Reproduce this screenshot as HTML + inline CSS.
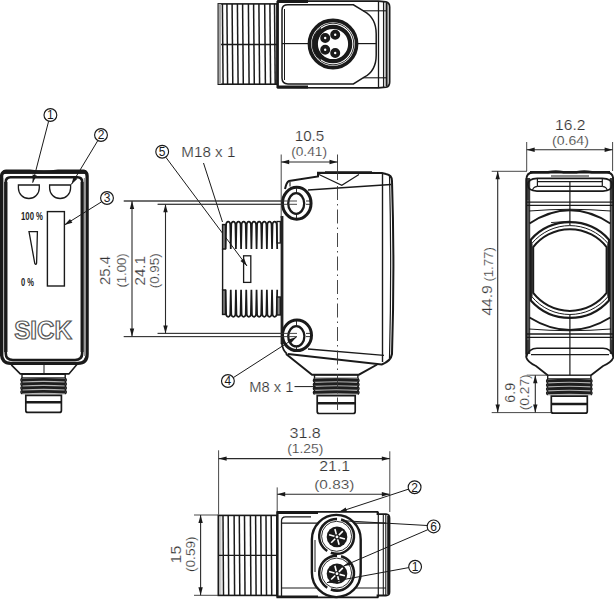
<!DOCTYPE html>
<html><head><meta charset="utf-8"><style>
html,body{margin:0;padding:0;background:#fff;}
svg{display:block;font-family:"Liberation Sans",sans-serif;}
</style></head><body>
<svg width="614" height="600" viewBox="0 0 614 600">
<rect x="218.3" y="3.9" width="58.7" height="80.3" rx="0" stroke="#1a1a1a" stroke-width="1.6" fill="none"/>
<line x1="222.4" y1="4" x2="223.1" y2="84" stroke="#1a1a1a" stroke-width="1.5" />
<line x1="226.9" y1="4" x2="227.6" y2="84" stroke="#1a1a1a" stroke-width="1.5" />
<line x1="232.1" y1="4" x2="232.79999999999998" y2="84" stroke="#1a1a1a" stroke-width="1.5" />
<line x1="237.4" y1="4" x2="238.1" y2="84" stroke="#1a1a1a" stroke-width="1.5" />
<line x1="242.6" y1="4" x2="243.29999999999998" y2="84" stroke="#1a1a1a" stroke-width="1.5" />
<line x1="248.4" y1="4" x2="249.1" y2="84" stroke="#1a1a1a" stroke-width="1.5" />
<line x1="253.6" y1="4" x2="254.29999999999998" y2="84" stroke="#1a1a1a" stroke-width="1.5" />
<line x1="258.9" y1="4" x2="259.59999999999997" y2="84" stroke="#1a1a1a" stroke-width="1.5" />
<line x1="264.7" y1="4" x2="265.4" y2="84" stroke="#1a1a1a" stroke-width="1.5" />
<line x1="269.9" y1="4" x2="270.59999999999997" y2="84" stroke="#1a1a1a" stroke-width="1.5" />
<line x1="274.5" y1="4" x2="275.2" y2="84" stroke="#1a1a1a" stroke-width="1.5" />
<line x1="218.3" y1="44.5" x2="277" y2="44.5" stroke="#1a1a1a" stroke-width="1.3" />
<path d="M277.8,87.6 L277.8,1.2 L378.5,1.2 L386,1.8 Q389.6,2.4 389.6,7 L389.6,82 Q389.6,86.8 386,87.2 L378.5,87.8 Z" stroke="#1a1a1a" stroke-width="1.8" fill="none" />
<path d="M277.5,1.5 L308,1.5" stroke="#1a1a1a" stroke-width="3" fill="none" />
<path d="M277.5,87 L308,87" stroke="#1a1a1a" stroke-width="3" fill="none" />
<line x1="277.6" y1="1" x2="277.6" y2="88" stroke="#1a1a1a" stroke-width="2.2" />
<rect x="218.5" y="4" width="2.6" height="80" fill="#aaa"/>
<path d="M282,10 Q282,4.8 288,4.8 L353.4,4.8 L364.2,11.4 Q376.2,18 376.2,34 L376.2,55 Q376.2,71 364.2,77.2 L353.4,83.9 L288,83.9 Q282,83.9 282,78 Z" stroke="#1a1a1a" stroke-width="1.5" fill="none" />
<line x1="284.5" y1="9" x2="284.5" y2="80" stroke="#1a1a1a" stroke-width="1" />
<line x1="378.5" y1="1.2" x2="378.5" y2="87.8" stroke="#1a1a1a" stroke-width="1.3" />
<line x1="383.6" y1="1.6" x2="383.6" y2="87.4" stroke="#1a1a1a" stroke-width="1.3" />
<line x1="386.6" y1="3" x2="386.6" y2="86" stroke="#1a1a1a" stroke-width="2.0" />
<line x1="363" y1="10.8" x2="387" y2="10.8" stroke="#1a1a1a" stroke-width="1.1" />
<line x1="363" y1="77.8" x2="387" y2="77.8" stroke="#1a1a1a" stroke-width="1.1" />
<line x1="282" y1="43.6" x2="308" y2="43.6" stroke="#1a1a1a" stroke-width="1.2" />
<line x1="358" y1="43.6" x2="376.2" y2="43.6" stroke="#1a1a1a" stroke-width="1.2" />
<circle cx="333" cy="44" r="23.6" stroke="#1a1a1a" stroke-width="3.6" fill="none"/>
<circle cx="333" cy="44" r="20.8" stroke="#1a1a1a" stroke-width="0.9" fill="none"/>
<circle cx="333" cy="44" r="17.2" stroke="#1a1a1a" stroke-width="4.2" fill="none"/>
<path d="M322,30 A17,17 0 0 0 322,58" stroke="#1a1a1a" stroke-width="5" fill="none" />
<circle cx="325.2" cy="38" r="3.1" stroke="#1a1a1a" stroke-width="3.8" fill="none"/>
<circle cx="335.2" cy="34.8" r="3.1" stroke="#1a1a1a" stroke-width="3.8" fill="none"/>
<circle cx="325.2" cy="49.7" r="3.1" stroke="#1a1a1a" stroke-width="3.8" fill="none"/>
<circle cx="335.2" cy="53" r="3.1" stroke="#1a1a1a" stroke-width="3.8" fill="none"/>
<path d="M1.6,176 Q1.6,172 6,172 L84,172 Q87.1,172 87.1,176 L87.1,354 Q87.1,363.3 78,363.3 L10.5,363.3 Q1.6,363.3 1.6,354 Z" stroke="#1a1a1a" stroke-width="3.3" fill="none" />
<path d="M2,173.7 L2,172 Q2.5,169.5 6,169.5 L30,169.5 Q44,171.5 58,169.5 L84,169.5 Q86.8,169.8 87,172 L87,173.7 Z" fill="#1a1a1a"/>
<path d="M5.75,182 Q5.75,177.2 10.5,177.2 L77.5,177.2 Q82.2,177.2 82.2,182 L82.2,353 Q82.2,360 75,360 L13,360 Q5.75,360 5.75,353 Z" stroke="#1a1a1a" stroke-width="2.6" fill="none" />
<line x1="5.75" y1="182" x2="5.75" y2="352" stroke="#1a1a1a" stroke-width="3.4" />
<line x1="82.2" y1="182" x2="82.2" y2="352" stroke="#1a1a1a" stroke-width="3.2" />
<line x1="84.6" y1="178" x2="84.6" y2="356" stroke="#9a9a9a" stroke-width="1.7" />
<line x1="3.65" y1="178" x2="3.65" y2="356" stroke="#999" stroke-width="0.8" />
<path d="M18.4,185 L39.3,185 L39.3,188 A10.45,10.5 0 0 1 18.4,188 Z" stroke="#1a1a1a" stroke-width="1.3" fill="none" />
<path d="M49.6,185 L70.6,185 L70.6,188 A10.5,10.5 0 0 1 49.6,188 Z" stroke="#1a1a1a" stroke-width="1.3" fill="none" />
<text x="32" y="219.6" font-size="10" text-anchor="middle" font-weight="bold" fill="#1a1a1a" textLength="22" lengthAdjust="spacingAndGlyphs" >100 %</text>
<rect x="47.4" y="211.6" width="17" height="74.4" rx="0" stroke="#1a1a1a" stroke-width="1.4" fill="none"/>
<path d="M29,231.6 L37.4,231.6 L36.6,263 Q36,265.5 34.8,263.5 Z" stroke="#1a1a1a" stroke-width="1.3" fill="none" />
<text x="27.5" y="286" font-size="10" text-anchor="middle" font-weight="bold" fill="#1a1a1a" textLength="13" lengthAdjust="spacingAndGlyphs" >0 %</text>
<text x="43" y="338.5" font-size="25" text-anchor="middle" font-weight="bold" fill="#fff" textLength="57.7" lengthAdjust="spacingAndGlyphs" stroke="#555" stroke-width="1.2">SICK</text>
<path d="M11.3,364.9 L20.3,373.9 L68.9,373.9 L77.1,364.3" stroke="#1a1a1a" stroke-width="1.6" fill="none" />
<line x1="44" y1="365" x2="44" y2="373" stroke="#1a1a1a" stroke-width="1" />
<rect x="22.0" y="374.3" width="43.2" height="3.7" rx="0" stroke="#1a1a1a" stroke-width="1.4" fill="none"/>
<rect x="22.00" y="378.00" width="43.20" height="16.50" fill="#b5b5b5"/>
<path d="M21.50,380.00 Q43.60,378.70 65.70,380.00" stroke="#1e1e1e" stroke-width="2.8" fill="none" />
<path d="M21.50,384.00 Q43.60,382.70 65.70,384.00" stroke="#1e1e1e" stroke-width="2.8" fill="none" />
<path d="M21.50,388.00 Q43.60,386.70 65.70,388.00" stroke="#1e1e1e" stroke-width="2.8" fill="none" />
<path d="M21.50,392.00 Q43.60,390.70 65.70,392.00" stroke="#1e1e1e" stroke-width="2.8" fill="none" />
<path d="M22.00,378.00 Q19.80,380.00 22.00,382.00 Q19.80,384.00 22.00,386.00 Q19.80,388.00 22.00,390.00 Q19.80,392.00 22.00,394.00" stroke="#1a1a1a" stroke-width="1.4" fill="none" />
<path d="M65.20,378.00 Q67.40,380.00 65.20,382.00 Q67.40,384.00 65.20,386.00 Q67.40,388.00 65.20,390.00 Q67.40,392.00 65.20,394.00" stroke="#1a1a1a" stroke-width="1.4" fill="none" />
<path d="M25.80,395.30 L61.40,395.30 L61.40,410.40 Q61.40,412.40 59.40,412.40 L27.80,412.40 Q25.80,412.40 25.80,410.40 Z" stroke="#1a1a1a" stroke-width="1.7" fill="none"/>
<line x1="25.8" y1="402.2" x2="61.4" y2="402.2" stroke="#1a1a1a" stroke-width="2.6" />
<circle cx="50.4" cy="115" r="6.4" stroke="#1a1a1a" stroke-width="1.15" fill="#fff"/>
<text x="50.4" y="119.3" font-size="12" text-anchor="middle" font-weight="normal" fill="#1a1a1a" >1</text>
<line x1="48.6" y1="121.3" x2="32.7" y2="182.7" stroke="#1a1a1a" stroke-width="1.0" />
<polygon points="32.70,182.70 36.84,175.51 32.58,174.40" fill="#1a1a1a"/>
<circle cx="101" cy="135" r="6.4" stroke="#1a1a1a" stroke-width="1.15" fill="#fff"/>
<text x="101" y="139.3" font-size="12" text-anchor="middle" font-weight="normal" fill="#1a1a1a" >2</text>
<line x1="97.8" y1="140.6" x2="71.4" y2="184.4" stroke="#1a1a1a" stroke-width="1.0" />
<polygon points="71.40,184.40 77.41,178.68 73.65,176.41" fill="#1a1a1a"/>
<circle cx="107" cy="198" r="6.4" stroke="#1a1a1a" stroke-width="1.15" fill="#fff"/>
<text x="107" y="202.3" font-size="12" text-anchor="middle" font-weight="normal" fill="#1a1a1a" >3</text>
<line x1="101.6" y1="201.8" x2="64.4" y2="225" stroke="#1a1a1a" stroke-width="1.0" />
<polygon points="64.40,225.00 72.35,222.63 70.02,218.90" fill="#1a1a1a"/>
<line x1="123.8" y1="201" x2="297" y2="201" stroke="#333" stroke-width="0.9" />
<line x1="157.7" y1="204.3" x2="297" y2="204.3" stroke="#333" stroke-width="0.9" />
<line x1="123.8" y1="336.6" x2="297" y2="336.6" stroke="#333" stroke-width="0.9" />
<line x1="157.7" y1="333.4" x2="297" y2="333.4" stroke="#333" stroke-width="0.9" />
<line x1="132" y1="201" x2="132" y2="336.6" stroke="#2a2a2a" stroke-width="1.1" />
<polygon points="132.00,201.00 129.80,209.00 134.20,209.00" fill="#1a1a1a"/>
<polygon points="132.00,336.60 134.20,328.60 129.80,328.60" fill="#1a1a1a"/>
<line x1="165.5" y1="204.3" x2="165.5" y2="333.4" stroke="#2a2a2a" stroke-width="1.1" />
<polygon points="165.50,204.30 163.30,212.30 167.70,212.30" fill="#1a1a1a"/>
<polygon points="165.50,333.40 167.70,325.40 163.30,325.40" fill="#1a1a1a"/>
<text x="110" y="270.5" font-size="14" text-anchor="middle" font-weight="normal" fill="#333" transform="rotate(-90 110 270.5)" textLength="29" lengthAdjust="spacingAndGlyphs"  stroke="#fff" stroke-width="0.2">25.4</text>
<text x="125.5" y="270.5" font-size="12.3" text-anchor="middle" font-weight="normal" fill="#333" transform="rotate(-90 125.5 270.5)" textLength="34" lengthAdjust="spacingAndGlyphs"  stroke="#fff" stroke-width="0.2">(1.00)</text>
<text x="144.6" y="270.8" font-size="14" text-anchor="middle" font-weight="normal" fill="#333" transform="rotate(-90 144.6 270.8)" textLength="29.4" lengthAdjust="spacingAndGlyphs"  stroke="#fff" stroke-width="0.2">24.1</text>
<text x="159.5" y="270.8" font-size="12.3" text-anchor="middle" font-weight="normal" fill="#333" transform="rotate(-90 159.5 270.8)" textLength="35" lengthAdjust="spacingAndGlyphs"  stroke="#fff" stroke-width="0.2">(0.95)</text>
<circle cx="162.2" cy="151.7" r="6.4" stroke="#1a1a1a" stroke-width="1.15" fill="#fff"/>
<text x="162.2" y="156.0" font-size="12" text-anchor="middle" font-weight="normal" fill="#1a1a1a" >5</text>
<text x="208.35" y="157" font-size="14" text-anchor="middle" font-weight="normal" fill="#333" textLength="54" lengthAdjust="spacingAndGlyphs"  stroke="#fff" stroke-width="0.2">M18 x 1</text>
<line x1="165.8" y1="157.2" x2="247" y2="266" stroke="#1a1a1a" stroke-width="1.0" />
<polygon points="247.00,266.00 243.98,258.27 240.45,260.90" fill="#1a1a1a"/>
<line x1="203.5" y1="163" x2="222.5" y2="222" stroke="#1a1a1a" stroke-width="1.0" />
<path d="M225.6,249 L226.10,224.8 C226.00,220.60000000000002 230.36,220.60000000000002 230.26,224.8 L230.76,249 L231.26,224.8 C231.16,220.60000000000002 235.52,220.60000000000002 235.42,224.8 L235.92,249 L236.42,224.8 C236.32,220.60000000000002 240.68,220.60000000000002 240.58,224.8 L241.08,249 L241.58,224.8 C241.48,220.60000000000002 245.84,220.60000000000002 245.74,224.8 L246.24,249 L246.74,224.8 C246.64,220.60000000000002 251.00,220.60000000000002 250.90,224.8 L251.40,249 L251.90,224.8 C251.80,220.60000000000002 256.16,220.60000000000002 256.06,224.8 L256.56,249 L257.06,224.8 C256.96,220.60000000000002 261.32,220.60000000000002 261.22,224.8 L261.72,249 L262.22,224.8 C262.12,220.60000000000002 266.48,220.60000000000002 266.38,224.8 L266.88,249 L267.38,224.8 C267.28,220.60000000000002 271.64,220.60000000000002 271.54,224.8 L272.04,249 L272.54,224.8 C272.44,220.60000000000002 276.80,220.60000000000002 276.70,224.8 L277.20,249" stroke="#1a1a1a" stroke-width="1.75" fill="none" />
<path d="M225.6,289.8 L226.10,313.6 C226.00,317.8 230.36,317.8 230.26,313.6 L230.76,289.8 L231.26,313.6 C231.16,317.8 235.52,317.8 235.42,313.6 L235.92,289.8 L236.42,313.6 C236.32,317.8 240.68,317.8 240.58,313.6 L241.08,289.8 L241.58,313.6 C241.48,317.8 245.84,317.8 245.74,313.6 L246.24,289.8 L246.74,313.6 C246.64,317.8 251.00,317.8 250.90,313.6 L251.40,289.8 L251.90,313.6 C251.80,317.8 256.16,317.8 256.06,313.6 L256.56,289.8 L257.06,313.6 C256.96,317.8 261.32,317.8 261.22,313.6 L261.72,289.8 L262.22,313.6 C262.12,317.8 266.48,317.8 266.38,313.6 L266.88,289.8 L267.38,313.6 C267.28,317.8 271.64,317.8 271.54,313.6 L272.04,289.8 L272.54,313.6 C272.44,317.8 276.80,317.8 276.70,313.6 L277.20,289.8" stroke="#1a1a1a" stroke-width="1.75" fill="none" />
<rect x="222.6" y="224.6" width="2.8" height="24.4" rx="0" stroke="#1a1a1a" stroke-width="1.5" fill="#999"/>
<rect x="222.6" y="290" width="2.8" height="24.4" rx="0" stroke="#1a1a1a" stroke-width="1.5" fill="#999"/>
<rect x="277" y="221.5" width="3.3" height="21.5" rx="0" stroke="#1a1a1a" stroke-width="1.3" fill="none"/>
<rect x="277" y="297" width="3.3" height="18" rx="0" stroke="#1a1a1a" stroke-width="1.4" fill="#888"/>
<line x1="222.6" y1="249" x2="222.6" y2="290" stroke="#1a1a1a" stroke-width="1.4" />
<rect x="243.6" y="255.8" width="7.2" height="26.6" rx="0" stroke="#1a1a1a" stroke-width="1.3" fill="none"/>
<line x1="282" y1="216" x2="282" y2="344" stroke="#222" stroke-width="2.8" />
<path d="M285,189 Q286.5,182 289,181 L318,176.5 L318,172.8 L382,173 L386,174 Q392,175 392,181 Q394.8,266 392,354 Q391,361 381.7,364.5 L288,354" stroke="#1a1a1a" stroke-width="2.0" fill="none" />
<line x1="290" y1="182" x2="290" y2="186.5" stroke="#1a1a1a" stroke-width="1.1" />
<path d="M319,174.5 L341.8,185.2 L359,174.5" stroke="#1a1a1a" stroke-width="1.2" fill="none" />
<path d="M325,172.6 L372,172.6" stroke="#1a1a1a" stroke-width="2.6" fill="none" />
<line x1="308" y1="190" x2="391" y2="184.5" stroke="#1a1a1a" stroke-width="1.3" />
<line x1="382.5" y1="173" x2="382.5" y2="362" stroke="#1a1a1a" stroke-width="1.4" />
<path d="M389.5,175 Q391.8,266 389.5,358" stroke="#1a1a1a" stroke-width="1.2" fill="none" />
<line x1="308" y1="349" x2="384" y2="355.3" stroke="#1a1a1a" stroke-width="1.3" />
<path d="M286,354 L312,374.7 L358.9,374.7 L377.2,364.5" stroke="#1a1a1a" stroke-width="1.9" fill="none" />
<path d="M281.8,343 Q282.5,350 287,354" stroke="#1a1a1a" stroke-width="1.8" fill="none" />
<ellipse cx="296.75" cy="203.2" rx="14.3" ry="16.0" stroke="#1a1a1a" stroke-width="3.0" fill="#fff"/>
<ellipse cx="296.2" cy="203.5" rx="8.0" ry="10.3" stroke="#1a1a1a" stroke-width="2.3" fill="none"/>
<ellipse cx="297" cy="335.3" rx="14.5" ry="15.3" stroke="#1a1a1a" stroke-width="3.0" fill="#fff"/>
<ellipse cx="296.3" cy="336.3" rx="8.1" ry="10.1" stroke="#1a1a1a" stroke-width="2.3" fill="none"/>
<line x1="296.5" y1="188.3" x2="296.5" y2="192.3" stroke="#1a1a1a" stroke-width="0.9" />
<line x1="296.5" y1="214.3" x2="296.5" y2="218.3" stroke="#1a1a1a" stroke-width="0.9" />
<line x1="296.5" y1="321" x2="296.5" y2="325" stroke="#1a1a1a" stroke-width="0.9" />
<line x1="296.5" y1="347" x2="296.5" y2="351" stroke="#1a1a1a" stroke-width="0.9" />
<line x1="123.8" y1="201" x2="297" y2="201" stroke="#333" stroke-width="0.9" />
<line x1="157.7" y1="204.3" x2="297" y2="204.3" stroke="#333" stroke-width="0.9" />
<line x1="123.8" y1="336.6" x2="297" y2="336.6" stroke="#333" stroke-width="0.9" />
<line x1="157.7" y1="333.4" x2="297" y2="333.4" stroke="#333" stroke-width="0.9" />
<line x1="306" y1="201" x2="312" y2="201" stroke="#1a1a1a" stroke-width="0.9" />
<line x1="306" y1="204.3" x2="312" y2="204.3" stroke="#1a1a1a" stroke-width="0.9" />
<line x1="306" y1="333.4" x2="312" y2="333.4" stroke="#1a1a1a" stroke-width="0.9" />
<line x1="306" y1="336.6" x2="312" y2="336.6" stroke="#1a1a1a" stroke-width="0.9" />
<rect x="314.5" y="374.7" width="43.4" height="3.7" rx="0" stroke="#1a1a1a" stroke-width="1.4" fill="none"/>
<rect x="314.50" y="378.40" width="43.40" height="16.50" fill="#b5b5b5"/>
<path d="M314.00,380.40 Q336.20,379.10 358.40,380.40" stroke="#1e1e1e" stroke-width="2.8" fill="none" />
<path d="M314.00,384.40 Q336.20,383.10 358.40,384.40" stroke="#1e1e1e" stroke-width="2.8" fill="none" />
<path d="M314.00,388.40 Q336.20,387.10 358.40,388.40" stroke="#1e1e1e" stroke-width="2.8" fill="none" />
<path d="M314.00,392.40 Q336.20,391.10 358.40,392.40" stroke="#1e1e1e" stroke-width="2.8" fill="none" />
<path d="M314.50,378.40 Q312.30,380.40 314.50,382.40 Q312.30,384.40 314.50,386.40 Q312.30,388.40 314.50,390.40 Q312.30,392.40 314.50,394.40" stroke="#1a1a1a" stroke-width="1.4" fill="none" />
<path d="M357.90,378.40 Q360.10,380.40 357.90,382.40 Q360.10,384.40 357.90,386.40 Q360.10,388.40 357.90,390.40 Q360.10,392.40 357.90,394.40" stroke="#1a1a1a" stroke-width="1.4" fill="none" />
<path d="M317.20,395.70 L355.20,395.70 L355.20,411.50 Q355.20,413.50 353.20,413.50 L319.20,413.50 Q317.20,413.50 317.20,411.50 Z" stroke="#1a1a1a" stroke-width="1.7" fill="none"/>
<line x1="317.2" y1="403.3" x2="355.2" y2="403.3" stroke="#1a1a1a" stroke-width="2.6" />
<line x1="337.5" y1="154.5" x2="337.5" y2="180" stroke="#333" stroke-width="0.9" />
<line x1="337.5" y1="186" x2="337.5" y2="410" stroke="#333" stroke-width="0.9" stroke-dasharray="14,4,1.5,4"/>
<text x="309.5" y="140.6" font-size="14" text-anchor="middle" font-weight="normal" fill="#333" textLength="29.6" lengthAdjust="spacingAndGlyphs"  stroke="#fff" stroke-width="0.2">10.5</text>
<text x="309.1" y="156" font-size="12.3" text-anchor="middle" font-weight="normal" fill="#333" textLength="35.8" lengthAdjust="spacingAndGlyphs"  stroke="#fff" stroke-width="0.2">(0.41)</text>
<line x1="281.2" y1="154.5" x2="281.2" y2="218" stroke="#333" stroke-width="0.9" />
<line x1="281.2" y1="162" x2="337.5" y2="162" stroke="#2a2a2a" stroke-width="1.1" />
<polygon points="281.20,162.00 289.20,164.20 289.20,159.80" fill="#1a1a1a"/>
<polygon points="337.50,162.00 329.50,159.80 329.50,164.20" fill="#1a1a1a"/>
<text x="271.4" y="391.9" font-size="14" text-anchor="middle" font-weight="normal" fill="#333" textLength="44.3" lengthAdjust="spacingAndGlyphs"  stroke="#fff" stroke-width="0.2">M8 x 1</text>
<line x1="294.5" y1="386.6" x2="315.6" y2="386.6" stroke="#1a1a1a" stroke-width="1.0" />
<circle cx="227.9" cy="381" r="6.4" stroke="#1a1a1a" stroke-width="1.15" fill="#fff"/>
<text x="227.9" y="385.3" font-size="12" text-anchor="middle" font-weight="normal" fill="#1a1a1a" >4</text>
<line x1="233.5" y1="377.5" x2="296.5" y2="337" stroke="#1a1a1a" stroke-width="1.0" />
<polygon points="296.50,337.00 287.63,339.85 290.23,343.89" fill="#1a1a1a"/>
<text x="570.25" y="129.9" font-size="14" text-anchor="middle" font-weight="normal" fill="#333" textLength="30.4" lengthAdjust="spacingAndGlyphs"  stroke="#fff" stroke-width="0.2">16.2</text>
<text x="570.45" y="144.8" font-size="12.3" text-anchor="middle" font-weight="normal" fill="#333" textLength="36.8" lengthAdjust="spacingAndGlyphs"  stroke="#fff" stroke-width="0.2">(0.64)</text>
<line x1="526.7" y1="142" x2="526.7" y2="171" stroke="#333" stroke-width="0.9" />
<line x1="612.6" y1="142" x2="612.6" y2="171" stroke="#333" stroke-width="0.9" />
<line x1="526.7" y1="149.7" x2="612.6" y2="149.7" stroke="#2a2a2a" stroke-width="1.1" />
<polygon points="526.70,149.70 534.70,151.90 534.70,147.50" fill="#1a1a1a"/>
<polygon points="612.60,149.70 604.60,147.50 604.60,151.90" fill="#1a1a1a"/>
<line x1="491.7" y1="171.3" x2="527" y2="171.3" stroke="#333" stroke-width="0.9" />
<line x1="491.7" y1="412.6" x2="551" y2="412.6" stroke="#333" stroke-width="0.9" />
<line x1="497.7" y1="171.3" x2="497.7" y2="412.6" stroke="#2a2a2a" stroke-width="1.1" />
<polygon points="497.70,171.30 495.50,179.30 499.90,179.30" fill="#1a1a1a"/>
<polygon points="497.70,412.60 499.90,404.60 495.50,404.60" fill="#1a1a1a"/>
<text x="492.3" y="300.4" font-size="14" text-anchor="middle" font-weight="normal" fill="#333" transform="rotate(-90 492.3 300.4)" textLength="30.4" lengthAdjust="spacingAndGlyphs"  stroke="#fff" stroke-width="0.2">44.9</text>
<text x="492.7" y="264.4" font-size="12.3" text-anchor="middle" font-weight="normal" fill="#333" transform="rotate(-90 492.7 264.4)" textLength="34.4" lengthAdjust="spacingAndGlyphs"  stroke="#fff" stroke-width="0.2">(1.77)</text>
<rect x="525.6" y="178" width="4.6" height="176" fill="#3a3a3a"/>
<rect x="609.8" y="178" width="4.2" height="176" fill="#3a3a3a"/>
<line x1="527.9" y1="200" x2="527.9" y2="340" stroke="#999" stroke-width="0.7" />
<line x1="611.9" y1="200" x2="611.9" y2="340" stroke="#999" stroke-width="0.7" />
<path d="M526.3,352 L526.3,180 Q526.3,172.5 533,172.5 L607,172.5 Q613.3,172.5 613.3,180 L613.3,352" stroke="#1a1a1a" stroke-width="1.8" fill="none" />
<path d="M530,172.2 L548,172.2 Q556,170.6 563,172.2 L577,172.2 Q584,170.6 592,172.2 L610,172.2" stroke="#1a1a1a" stroke-width="2.4" fill="none" />
<line x1="551" y1="176" x2="589" y2="176" stroke="#1a1a1a" stroke-width="1.1" />
<path d="M537.4,178.4 L602.3,178.4 Q612,178.8 612,184.6 Q612,191.1 603,191.1 L537,191.1 Q527.9,191.1 527.9,184.6 Q527.9,178.8 537.4,178.4 Z" stroke="#1a1a1a" stroke-width="1.6" fill="none" />
<line x1="537.4" y1="181.6" x2="602.3" y2="181.6" stroke="#1a1a1a" stroke-width="1.2" />
<line x1="537.4" y1="186.4" x2="602.3" y2="186.4" stroke="#1a1a1a" stroke-width="1.2" />
<line x1="537.4" y1="178.4" x2="537.4" y2="186.4" stroke="#1a1a1a" stroke-width="1.2" />
<line x1="602.3" y1="178.4" x2="602.3" y2="186.4" stroke="#1a1a1a" stroke-width="1.2" />
<path d="M537.4,186.4 Q532.5,187 532.5,191.1" stroke="#1a1a1a" stroke-width="1.1" fill="none" />
<path d="M602.3,186.4 Q607.2,187 607.2,191.1" stroke="#1a1a1a" stroke-width="1.1" fill="none" />
<line x1="569.9" y1="181.6" x2="569.9" y2="225" stroke="#1a1a1a" stroke-width="1.2" />
<line x1="569.9" y1="315" x2="569.9" y2="375" stroke="#1a1a1a" stroke-width="1.2" />
<line x1="527" y1="202.2" x2="613" y2="202.2" stroke="#1a1a1a" stroke-width="1.3" />
<line x1="527" y1="205.3" x2="613" y2="205.3" stroke="#1a1a1a" stroke-width="1.3" />
<line x1="527" y1="334" x2="613" y2="334" stroke="#1a1a1a" stroke-width="1.3" />
<line x1="527" y1="337.3" x2="613" y2="337.3" stroke="#1a1a1a" stroke-width="1.3" />
<path d="M529,211 Q569.9,207.5 611,211" stroke="#1a1a1a" stroke-width="1.1" fill="none" />
<path d="M529,329 Q569.9,332.5 611,329" stroke="#1a1a1a" stroke-width="1.1" fill="none" />
<path d="M529.5,223.5 Q569.9,197.2 610.3,223.5" stroke="#1a1a1a" stroke-width="2.0" fill="none" />
<path d="M529.5,317.5 Q569.9,342.5 610.3,317.5" stroke="#1a1a1a" stroke-width="2.0" fill="none" />
<path d="M530.8,239.67 A52.5,52.5 0 0 1 609.0,239.67 L609.0,300.43 A52.5,52.5 0 0 1 530.8,300.43 Z" stroke="#1a1a1a" stroke-width="2.2" fill="none" />
<path d="M532.0,243.26 A49.5,49.5 0 0 1 607.8,243.26 L607.8,296.84 A49.5,49.5 0 0 1 532.0,296.84 Z" stroke="#1a1a1a" stroke-width="1.0" fill="none" />
<path d="M533.2,247.15 A46.5,46.5 0 0 1 606.6,247.15 L606.6,292.95 A46.5,46.5 0 0 1 533.2,292.95 Z" stroke="#1a1a1a" stroke-width="2.0" fill="none" />
<line x1="551" y1="222.6" x2="569.9" y2="221.2" stroke="#1a1a1a" stroke-width="0.9" />
<path d="M526.3,357 Q529,348.2 537,348.2 L603,348.2 Q611,348.2 613.3,357" stroke="#1a1a1a" stroke-width="1.6" fill="none" />
<line x1="531" y1="354.6" x2="609" y2="354.6" stroke="#1a1a1a" stroke-width="1.3" />
<path d="M526.3,352 L526.3,357.5 Q527.5,362 536,366 L547.7,375.2" stroke="#1a1a1a" stroke-width="1.8" fill="none" />
<path d="M613.3,352 L613.3,357.5 Q612,362 603,366 L591,375.2" stroke="#1a1a1a" stroke-width="1.8" fill="none" />
<rect x="547.7" y="375.2" width="43.2" height="3.7" rx="0" stroke="#1a1a1a" stroke-width="1.4" fill="none"/>
<rect x="547.70" y="378.90" width="43.20" height="16.50" fill="#b5b5b5"/>
<path d="M547.20,380.90 Q569.30,379.60 591.40,380.90" stroke="#1e1e1e" stroke-width="2.8" fill="none" />
<path d="M547.20,384.90 Q569.30,383.60 591.40,384.90" stroke="#1e1e1e" stroke-width="2.8" fill="none" />
<path d="M547.20,388.90 Q569.30,387.60 591.40,388.90" stroke="#1e1e1e" stroke-width="2.8" fill="none" />
<path d="M547.20,392.90 Q569.30,391.60 591.40,392.90" stroke="#1e1e1e" stroke-width="2.8" fill="none" />
<path d="M547.70,378.90 Q545.50,380.90 547.70,382.90 Q545.50,384.90 547.70,386.90 Q545.50,388.90 547.70,390.90 Q545.50,392.90 547.70,394.90" stroke="#1a1a1a" stroke-width="1.4" fill="none" />
<path d="M590.90,378.90 Q593.10,380.90 590.90,382.90 Q593.10,384.90 590.90,386.90 Q593.10,388.90 590.90,390.90 Q593.10,392.90 590.90,394.90" stroke="#1a1a1a" stroke-width="1.4" fill="none" />
<path d="M551.30,396.20 L587.30,396.20 L587.30,411.20 Q587.30,413.20 585.30,413.20 L553.30,413.20 Q551.30,413.20 551.30,411.20 Z" stroke="#1a1a1a" stroke-width="1.7" fill="none"/>
<line x1="551.3" y1="404" x2="587.3" y2="404" stroke="#1a1a1a" stroke-width="2.6" />
<line x1="526.7" y1="375.2" x2="547.7" y2="375.2" stroke="#333" stroke-width="0.9" />
<line x1="535.3" y1="375.2" x2="535.3" y2="412.6" stroke="#2a2a2a" stroke-width="1.1" />
<polygon points="535.30,375.20 533.10,383.20 537.50,383.20" fill="#1a1a1a"/>
<polygon points="535.30,412.60 537.50,404.60 533.10,404.60" fill="#1a1a1a"/>
<text x="515" y="392.8" font-size="14" text-anchor="middle" font-weight="normal" fill="#333" transform="rotate(-90 515 392.8)" textLength="19.8" lengthAdjust="spacingAndGlyphs"  stroke="#fff" stroke-width="0.2">6.9</text>
<text x="529" y="392.3" font-size="12.3" text-anchor="middle" font-weight="normal" fill="#333" transform="rotate(-90 529 392.3)" textLength="36" lengthAdjust="spacingAndGlyphs"  stroke="#fff" stroke-width="0.2">(0.27)</text>
<text x="305.15" y="437.8" font-size="14" text-anchor="middle" font-weight="normal" fill="#333" textLength="31.4" lengthAdjust="spacingAndGlyphs"  stroke="#fff" stroke-width="0.2">31.8</text>
<text x="305.3" y="452.8" font-size="12.3" text-anchor="middle" font-weight="normal" fill="#333" textLength="36.2" lengthAdjust="spacingAndGlyphs"  stroke="#fff" stroke-width="0.2">(1.25)</text>
<line x1="218.6" y1="450.3" x2="218.6" y2="514.7" stroke="#333" stroke-width="0.9" />
<line x1="389.8" y1="451.3" x2="389.8" y2="512" stroke="#333" stroke-width="0.9" />
<line x1="218.6" y1="458.6" x2="389.8" y2="458.6" stroke="#2a2a2a" stroke-width="1.1" />
<polygon points="218.60,458.60 226.60,460.80 226.60,456.40" fill="#1a1a1a"/>
<polygon points="389.80,458.60 381.80,456.40 381.80,460.80" fill="#1a1a1a"/>
<text x="334.7" y="471.3" font-size="14" text-anchor="middle" font-weight="normal" fill="#333" textLength="30.8" lengthAdjust="spacingAndGlyphs"  stroke="#fff" stroke-width="0.2">21.1</text>
<text x="334.3" y="488.6" font-size="12.3" text-anchor="middle" font-weight="normal" fill="#333" textLength="40.2" lengthAdjust="spacingAndGlyphs"  stroke="#fff" stroke-width="0.2">(0.83)</text>
<line x1="277.2" y1="487.4" x2="277.2" y2="512.3" stroke="#333" stroke-width="0.9" />
<line x1="277.2" y1="494.2" x2="389.8" y2="494.2" stroke="#2a2a2a" stroke-width="1.1" />
<polygon points="277.20,494.20 285.20,496.40 285.20,492.00" fill="#1a1a1a"/>
<polygon points="389.80,494.20 381.80,492.00 381.80,496.40" fill="#1a1a1a"/>
<circle cx="414.6" cy="487.2" r="6.4" stroke="#1a1a1a" stroke-width="1.15" fill="#fff"/>
<text x="414.6" y="491.5" font-size="12" text-anchor="middle" font-weight="normal" fill="#1a1a1a" >2</text>
<line x1="408.4" y1="489.2" x2="338.8" y2="512.1" stroke="#1a1a1a" stroke-width="1.0" />
<polygon points="338.80,512.10 347.09,511.69 345.71,507.51" fill="#1a1a1a"/>
<rect x="218.5" y="515.4" width="3" height="80" fill="#c8c8c8"/>
<rect x="218.3" y="515.4" width="58.5" height="80" rx="0" stroke="#1a1a1a" stroke-width="1.6" fill="none"/>
<line x1="223" y1="515.4" x2="223.5" y2="595.4" stroke="#1a1a1a" stroke-width="1.5" />
<line x1="228.2" y1="515.4" x2="228.7" y2="595.4" stroke="#1a1a1a" stroke-width="1.5" />
<line x1="234.1" y1="515.4" x2="234.6" y2="595.4" stroke="#1a1a1a" stroke-width="1.5" />
<line x1="239.3" y1="515.4" x2="239.8" y2="595.4" stroke="#1a1a1a" stroke-width="1.5" />
<line x1="244.5" y1="515.4" x2="245.0" y2="595.4" stroke="#1a1a1a" stroke-width="1.5" />
<line x1="250.4" y1="515.4" x2="250.9" y2="595.4" stroke="#1a1a1a" stroke-width="1.5" />
<line x1="255.6" y1="515.4" x2="256.1" y2="595.4" stroke="#1a1a1a" stroke-width="1.5" />
<line x1="260.8" y1="515.4" x2="261.3" y2="595.4" stroke="#1a1a1a" stroke-width="1.5" />
<line x1="266" y1="515.4" x2="266.5" y2="595.4" stroke="#1a1a1a" stroke-width="1.5" />
<line x1="271.2" y1="515.4" x2="271.7" y2="595.4" stroke="#1a1a1a" stroke-width="1.5" />
<line x1="218.3" y1="555.3" x2="277" y2="555.3" stroke="#1a1a1a" stroke-width="1.3" />
<line x1="194" y1="515" x2="218" y2="515" stroke="#333" stroke-width="0.9" />
<line x1="194" y1="595.3" x2="218" y2="595.3" stroke="#333" stroke-width="0.9" />
<line x1="200.6" y1="515" x2="200.6" y2="595.3" stroke="#2a2a2a" stroke-width="1.1" />
<polygon points="200.60,515.00 198.40,523.00 202.80,523.00" fill="#1a1a1a"/>
<polygon points="200.60,595.30 202.80,587.30 198.40,587.30" fill="#1a1a1a"/>
<text x="181.1" y="554.6" font-size="14" text-anchor="middle" font-weight="normal" fill="#333" transform="rotate(-90 181.1 554.6)" textLength="17.7" lengthAdjust="spacingAndGlyphs"  stroke="#fff" stroke-width="0.2">15</text>
<text x="194.7" y="554.2" font-size="12.3" text-anchor="middle" font-weight="normal" fill="#333" transform="rotate(-90 194.7 554.2)" textLength="35.6" lengthAdjust="spacingAndGlyphs"  stroke="#fff" stroke-width="0.2">(0.59)</text>
<path d="M277.4,511.9 L377.5,511.9 L377.5,514.2 L386,514.2 Q389.5,514.5 389.5,518 L389.5,592 Q389.5,595.5 386,595.5 L377.5,595.5 L377.5,597.4 L277.4,597.4 Z" stroke="#1a1a1a" stroke-width="1.8" fill="none" />
<line x1="277.4" y1="512" x2="277.4" y2="597.4" stroke="#1a1a1a" stroke-width="2.0" />
<path d="M277.4,512.6 L318,512.6" stroke="#1a1a1a" stroke-width="2.6" fill="none" />
<path d="M277.4,596.8 L318,596.8" stroke="#1a1a1a" stroke-width="2.6" fill="none" />
<path d="M281.5,597 L281.5,521 Q281.5,516.8 285.5,516.8 L311,516.8" stroke="#1a1a1a" stroke-width="1.3" fill="none" />
<line x1="281.5" y1="523.2" x2="386" y2="523.2" stroke="#1a1a1a" stroke-width="1.2" />
<line x1="281.5" y1="588" x2="386" y2="588" stroke="#1a1a1a" stroke-width="1.2" />
<line x1="378.3" y1="512" x2="378.3" y2="597.4" stroke="#1a1a1a" stroke-width="1.2" />
<line x1="383.3" y1="514.2" x2="383.3" y2="595.5" stroke="#1a1a1a" stroke-width="1.1" />
<line x1="385.8" y1="514.2" x2="385.8" y2="595.5" stroke="#1a1a1a" stroke-width="1.1" />
<line x1="388.5" y1="516" x2="388.5" y2="594" stroke="#1a1a1a" stroke-width="2.6" />
<rect x="311.9" y="514.9" width="48.8" height="82.2" rx="24.4" stroke="#1a1a1a" stroke-width="2.4" fill="#fff"/>
<line x1="315" y1="540" x2="315" y2="572" stroke="#1a1a1a" stroke-width="1.0" />
<circle cx="336.6" cy="536.3" r="17.4" stroke="#1a1a1a" stroke-width="2.5" fill="none" stroke-dasharray="45 4 45 4" transform="rotate(-40 336.6 536.3)"/>
<circle cx="336.6" cy="536.3" r="15.0" stroke="#1a1a1a" stroke-width="0.9" fill="none"/>
<circle cx="337.0" cy="536.9" r="10.3" stroke="#1a1a1a" stroke-width="0" fill="#1a1a1a"/>
<line x1="339.51" y1="537.57" x2="344.92" y2="539.02" stroke="#fff" stroke-width="1.6" />
<line x1="337.67" y1="539.41" x2="339.12" y2="544.82" stroke="#fff" stroke-width="1.6" />
<line x1="335.16" y1="538.74" x2="331.2" y2="542.7" stroke="#fff" stroke-width="1.6" />
<line x1="334.49" y1="536.23" x2="329.08" y2="534.78" stroke="#fff" stroke-width="1.6" />
<line x1="336.33" y1="534.39" x2="334.88" y2="528.98" stroke="#fff" stroke-width="1.6" />
<line x1="338.84" y1="535.06" x2="342.8" y2="531.1" stroke="#fff" stroke-width="1.6" />
<circle cx="337.0" cy="536.9" r="1.4" stroke="#1a1a1a" stroke-width="0" fill="#fff"/>
<circle cx="336.6" cy="573.1" r="17.4" stroke="#1a1a1a" stroke-width="2.5" fill="none" stroke-dasharray="45 4 45 4" transform="rotate(-40 336.6 573.1)"/>
<circle cx="336.6" cy="573.1" r="15.0" stroke="#1a1a1a" stroke-width="0.9" fill="none"/>
<circle cx="337.0" cy="573.7" r="10.3" stroke="#1a1a1a" stroke-width="0" fill="#1a1a1a"/>
<line x1="339.51" y1="574.37" x2="344.92" y2="575.82" stroke="#fff" stroke-width="1.6" />
<line x1="337.67" y1="576.21" x2="339.12" y2="581.62" stroke="#fff" stroke-width="1.6" />
<line x1="335.16" y1="575.54" x2="331.2" y2="579.5" stroke="#fff" stroke-width="1.6" />
<line x1="334.49" y1="573.03" x2="329.08" y2="571.58" stroke="#fff" stroke-width="1.6" />
<line x1="336.33" y1="571.19" x2="334.88" y2="565.78" stroke="#fff" stroke-width="1.6" />
<line x1="338.84" y1="571.86" x2="342.8" y2="567.9" stroke="#fff" stroke-width="1.6" />
<circle cx="337.0" cy="573.7" r="1.4" stroke="#1a1a1a" stroke-width="0" fill="#fff"/>
<circle cx="433.6" cy="526.4" r="6.4" stroke="#1a1a1a" stroke-width="1.15" fill="#fff"/>
<text x="433.6" y="530.6999999999999" font-size="12" text-anchor="middle" font-weight="normal" fill="#1a1a1a" >6</text>
<line x1="427.3" y1="525.5" x2="344.5" y2="520.8" stroke="#1a1a1a" stroke-width="1.0" />
<line x1="428" y1="529.6" x2="343.6" y2="566" stroke="#1a1a1a" stroke-width="1.0" />
<polygon points="343.60,566.00 350.82,565.06 349.24,561.39" fill="#1a1a1a"/>
<circle cx="415.1" cy="566.8" r="6.4" stroke="#1a1a1a" stroke-width="1.15" fill="#fff"/>
<text x="415.1" y="571.0999999999999" font-size="12" text-anchor="middle" font-weight="normal" fill="#1a1a1a" >1</text>
<line x1="408.8" y1="567.6" x2="327" y2="582.6" stroke="#1a1a1a" stroke-width="1.0" />
<polygon points="327.00,582.60 334.25,583.30 333.52,579.37" fill="#1a1a1a"/>
</svg>
</body></html>
